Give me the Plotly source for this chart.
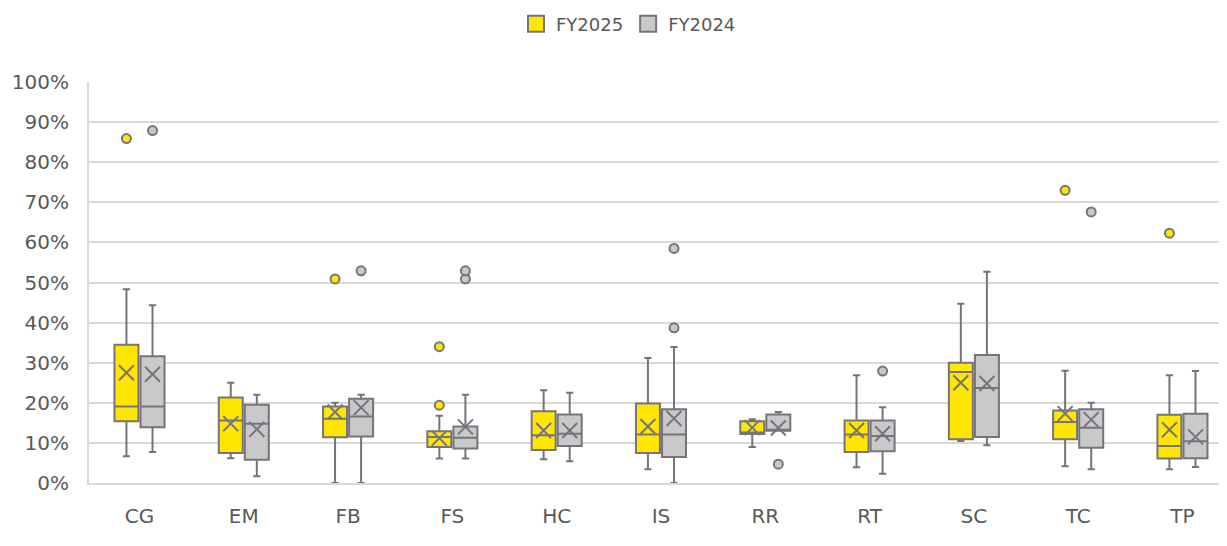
import plotly.graph_objects as go

categories = ["CG", "EM", "FB", "FS", "HC", "IS", "RR", "RT", "SC", "TC", "TP"]

# FY2025 box statistics (fractions)
fy25_lower = [0.067, 0.062, 0.000, 0.061, 0.059, 0.034, 0.090, 0.039, 0.105, 0.042, 0.034]
fy25_q1 = [0.154, 0.075, 0.114, 0.090, 0.082, 0.075, 0.122, 0.077, 0.109, 0.109, 0.061]
fy25_median = [0.191, 0.156, 0.160, 0.115, 0.119, 0.121, 0.126, 0.121, 0.277, 0.152, 0.092]
fy25_q3 = [0.345, 0.213, 0.191, 0.129, 0.179, 0.198, 0.154, 0.156, 0.300, 0.181, 0.170]
fy25_upper = [0.483, 0.250, 0.200, 0.168, 0.231, 0.312, 0.159, 0.269, 0.447, 0.280, 0.269]
fy25_mean = [0.275, 0.148, 0.177, 0.112, 0.131, 0.141, 0.138, 0.131, 0.250, 0.173, 0.133]
fy25_outliers = [[0.859], [], [0.509], [0.194, 0.340], [], [], [], [], [], [0.730], [0.623]]

# FY2024 box statistics (fractions)
fy24_lower = [0.077, 0.017, 0.000, 0.061, 0.054, 0.000, 0.130, 0.023, 0.094, 0.034, 0.040]
fy24_q1 = [0.139, 0.058, 0.116, 0.086, 0.092, 0.065, 0.130, 0.079, 0.115, 0.088, 0.062]
fy24_median = [0.191, 0.148, 0.166, 0.113, 0.123, 0.121, 0.133, 0.117, 0.237, 0.138, 0.104]
fy24_q3 = [0.316, 0.195, 0.210, 0.141, 0.171, 0.184, 0.171, 0.156, 0.319, 0.184, 0.173]
fy24_upper = [0.443, 0.220, 0.220, 0.220, 0.225, 0.339, 0.177, 0.189, 0.527, 0.200, 0.279]
fy24_mean = [0.271, 0.134, 0.188, 0.140, 0.131, 0.161, 0.137, 0.123, 0.248, 0.158, 0.115]
fy24_outliers = [[0.879], [], [0.529], [0.509, 0.529], [], [0.387, 0.585], [0.047], [0.279], [], [0.676], []]

series = [
    ("FY2025", "#FFE600", -0.125, fy25_lower, fy25_q1, fy25_median, fy25_q3, fy25_upper, fy25_mean, fy25_outliers),
    ("FY2024", "#C9C9C9", 0.125, fy24_lower, fy24_q1, fy24_median, fy24_q3, fy24_upper, fy24_mean, fy24_outliers),
]

EDGE = "#75747E"
TEXT = "#595959"
GRID = "#D9D9D9"
FONT = "DejaVu Sans"

fig = go.Figure()
for name, color, off, lo, q1, med, q3, up, mean, outs in series:
    xs = [i + off for i in range(len(categories))]
    fig.add_trace(go.Box(
        name=name, x=xs, q1=q1, median=med, q3=q3,
        lowerfence=lo, upperfence=up, width=0.23,
        fillcolor=color, line=dict(color=EDGE, width=2),
        whiskerwidth=0.3, boxpoints=False, hoverinfo="skip", showlegend=False,
    ))
for name, color, off, lo, q1, med, q3, up, mean, outs in series:
    xs = [i + off for i in range(len(categories))]
    fig.add_trace(go.Scatter(
        x=xs, y=mean, mode="markers", showlegend=False, hoverinfo="skip",
        marker=dict(symbol="x-thin-open", size=15, color=EDGE, line=dict(color=EDGE, width=2)),
    ))
    ox, oy = [], []
    for i, vals in enumerate(outs):
        for v in vals:
            ox.append(i + off)
            oy.append(v)
    fig.add_trace(go.Scatter(
        x=ox, y=oy, mode="markers", showlegend=False, hoverinfo="skip",
        marker=dict(symbol="circle", size=9, color=color, line=dict(color=EDGE, width=2)),
    ))
# legend entries
for name, color, *_ in series:
    fig.add_trace(go.Scatter(
        x=[None], y=[None], mode="markers", name=name, showlegend=True,
        marker=dict(symbol="square", size=20, color=color, line=dict(color=EDGE, width=2)),
    ))

fig.update_layout(
    width=1219, height=538,
    margin=dict(l=81, r=0, t=74, b=63, autoexpand=False),
    paper_bgcolor="white", plot_bgcolor="white",
    boxmode="overlay",
    font=dict(family=FONT, size=18, color=TEXT),
    legend=dict(orientation="h", x=0.509, xanchor="center", xref="container",
                y=0.970, yref="container", yanchor="middle",
                font=dict(size=18, color=TEXT), traceorder="normal"),
)
fig.update_xaxes(
    range=[-0.484, 10.427], tickmode="array",
    tickvals=list(range(len(categories))), ticktext=categories,
    showgrid=False, zeroline=False, showline=True, linecolor=GRID, linewidth=2,
    ticks="", tickfont=dict(size=20, color=TEXT), ticklabelstandoff=14,
)
fig.update_yaxes(
    range=[0, 1.0], dtick=0.1, tickformat=".0%",
    showgrid=True, gridcolor=GRID, gridwidth=2, zeroline=False,
    showline=True, linecolor=GRID, linewidth=2, ticks="",
    tickfont=dict(size=20, color=TEXT), ticklabelstandoff=14,
)
fig.write_html("out.html")
